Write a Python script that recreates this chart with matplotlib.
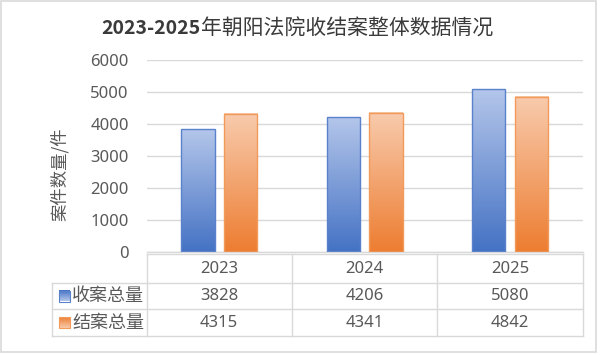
import numpy as np
import matplotlib
matplotlib.use("Agg")
import matplotlib.pyplot as plt
from matplotlib.colors import LinearSegmentedColormap
from matplotlib.patches import Rectangle
from matplotlib.lines import Line2D

plt.rcParams['font.family'] = ['Noto Sans', 'Noto Sans CJK SC', 'DejaVu Sans']

title_num = "2023-2025"
title_txt = "年朝阳法院收结案整体数据情况"
ylabel = "案件数量/件"
years = ["2023", "2024", "2025"]
series_names = ["收案总量", "结案总量"]
received = [3828, 4206, 5080]
closed = [4315, 4341, 4842]
yticks = [0, 1000, 2000, 3000, 4000, 5000, 6000]

W, H = 600, 355
fig = plt.figure(figsize=(W / 100, H / 100), dpi=100)
fig.patch.set_facecolor("white")

# pixel geometry
pl, pr, pt, pb = 146.7, 582.6, 59.5, 252.0
ax = fig.add_axes([pl / W, 1 - pb / H, (pr - pl) / W, (pb - pt) / H])
ax.set_facecolor("none")

grid_c = "#d9d9d9"
text_c = "#595959"

blue_cm = LinearSegmentedColormap.from_list("b", ["#4472c4", "#b4c6ea"])
orange_cm = LinearSegmentedColormap.from_list("o", ["#ed7d31", "#f8cbad"])
edge_b = "#5a82cc"
edge_o = "#f29a5a"

x = np.arange(len(years))
bw = 0.228
off = 0.147
grad = np.linspace(0, 1, 256).reshape(-1, 1)

for vals, sgn, cm, ec in [(received, -1, blue_cm, edge_b), (closed, 1, orange_cm, edge_o)]:
    bars = ax.bar(x + sgn * off, vals, width=bw, facecolor="none", edgecolor=ec,
                  linewidth=1.0, zorder=3)
    for b in bars:
        x0, w, h = b.get_x(), b.get_width(), b.get_height()
        ax.imshow(grad, cmap=cm, origin="lower", aspect="auto",
                  extent=(x0, x0 + w, 0, h), zorder=2, interpolation="bilinear")

ax.set_xlim(-0.5, len(years) - 0.5)
ax.set_ylim(0, 6000)
ax.set_yticks(yticks)
ax.set_yticklabels([str(t) for t in yticks])
ax.set_xticks([])
ax.tick_params(axis="y", length=0, pad=13, labelsize=12, labelcolor=text_c)
for s in ["top", "right", "left"]:
    ax.spines[s].set_visible(False)
ax.spines["bottom"].set_color(grid_c)
ax.spines["bottom"].set_linewidth(1.0)
ax.grid(axis="y", color=grid_c, linewidth=1.0, zorder=0)
ax.set_axisbelow(True)

# overlay in pixel coords
ov = fig.add_axes([0, 0, 1, 1], zorder=5)
ov.set_xlim(0, W)
ov.set_ylim(H, 0)
ov.axis("off")
ov.patch.set_alpha(0)

# outer border
ov.add_patch(Rectangle((1, 1), 595, 351, fill=False, edgecolor=grid_c, linewidth=1.2))

# title
ov.text(201, 28.7, title_num, ha="right", va="center", fontsize=14, fontweight="bold",
        color="#3a3a3a", family=["Noto Sans CJK SC"])
ov.text(201, 28.7, title_txt, ha="left", va="center", fontsize=15, fontweight="medium",
        color="#3a3a3a", family=["Noto Sans CJK SC"])

# y label
ov.text(60, 174, ylabel, rotation=90, ha="center", va="center", fontsize=12.5,
        color=text_c, family=["Noto Sans CJK SC", "DejaVu Sans"])

# table
cols = [146.7, 291.6, 437.4, 582.6]
legx = 52
rows = [254.3, 282.7, 309.3, 335.7]
lw = 1.0
ov.add_line(Line2D([cols[0], cols[-1]], [rows[0], rows[0]], color=grid_c, lw=lw))
for r in rows[1:]:
    ov.add_line(Line2D([legx, cols[-1]], [r, r], color=grid_c, lw=lw))
for c in cols:
    ov.add_line(Line2D([c, c], [rows[0], rows[-1]], color=grid_c, lw=lw))
ov.add_line(Line2D([legx, legx], [rows[1], rows[-1]], color=grid_c, lw=lw))

for i, yr in enumerate(years):
    cx = (cols[i] + cols[i + 1]) / 2
    ov.text(cx, (rows[0] + rows[1]) / 2 + 0.5, yr, ha="center", va="center",
            fontsize=12, color=text_c)
    ov.text(cx, (rows[1] + rows[2]) / 2 + 0.5, str(received[i]), ha="center", va="center",
            fontsize=12, color=text_c)
    ov.text(cx, (rows[2] + rows[3]) / 2 + 0.5, str(closed[i]), ha="center", va="center",
            fontsize=12, color=text_c)

for j, (name, cm, ec) in enumerate([(series_names[0], blue_cm, edge_b),
                                     (series_names[1], orange_cm, edge_o)]):
    cy = (rows[j + 1] + rows[j + 2]) / 2
    ov.imshow(grad, cmap=cm, origin="upper", aspect="auto",
              extent=(58.5, 69.5, cy + 5.5, cy - 5.5), zorder=2)
    ov.add_patch(Rectangle((58.5, cy - 5.5), 11, 11, fill=False, edgecolor=ec, lw=0.8, zorder=3))
    ov.text(72, cy + 0.5, name, ha="left", va="center", fontsize=13, color=text_c,
            family=["Noto Sans CJK SC"])

ov.set_xlim(0, W)
ov.set_ylim(H, 0)

fig.savefig("out.png", dpi=100, facecolor="white")
